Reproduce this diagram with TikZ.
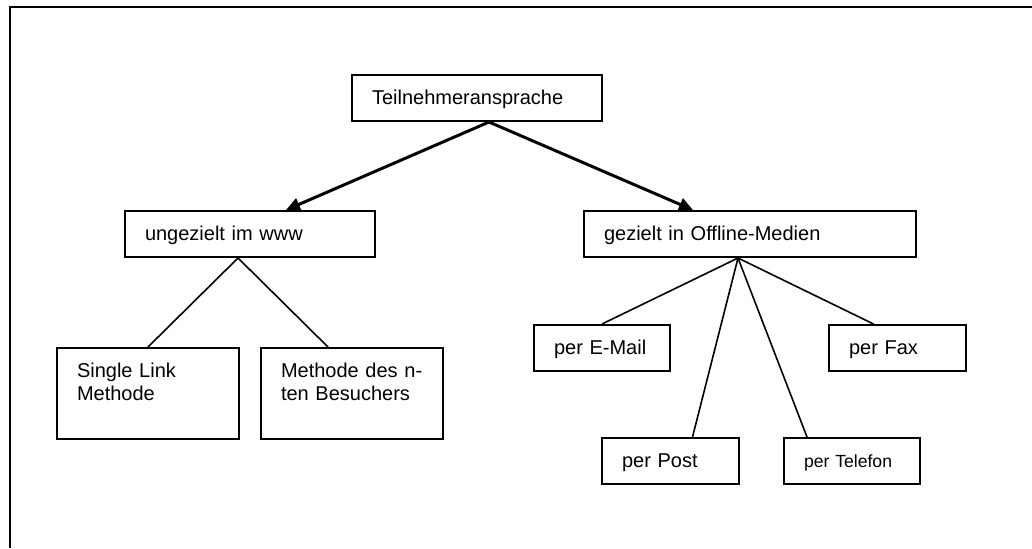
\documentclass[tikz,border=0pt]{standalone}
\usepackage{fontspec}
\setmainfont{Liberation Sans}[Ligatures=NoCommon]
\usetikzlibrary{arrows.meta,positioning}

\begin{document}
\begin{tikzpicture}[x=0.5pt, y=-0.5pt, every node/.style={font=\fontsize{10pt}{11.5pt}\selectfont},
	box/.style={draw, line width=1pt, anchor=north west, align=left, inner xsep=10pt, inner ysep=0pt, text height=14.5pt, text depth=8.5pt},
	hochbox/.style={box, text width=71pt, text depth=31pt},
	pfeil/.style={line width=1.5pt, -{Triangle[length=7pt,width=6.5pt]}},
	linie/.style={line width=0.8pt}]
	\useasboundingbox (0,0) rectangle (1032,548);
	\draw[line width=1pt] (1032,6.7) -| (10,548);
	\node[box, text width=105pt] (teiln) at (351,74) {Teilnehmeransprache};
	\node[box, text width=105pt] (ungezielt) at (124,210) {ungezielt im www};
	\node[box, text width=146pt] (gezielt) at (583,210) {gezielt in Offline-Medien};
	\node[hochbox] (single) at (56,347) {Single Link\\Methode};
	\node[hochbox] (nter) at (260,347) {\mbox{Methode des n-}\\ten Besuchers};
	\node[box, text width=48pt] (email) at (533,324) {per E-Mail};
	\node[box, text width=48.5pt] (fax) at (828,324) {per Fax};
	\node[box, text width=48.5pt] (post) at (601,437) {per Post};
	\node[box, text width=48pt, font=\fontsize{8.8pt}{10pt}\selectfont] (telefon) at (783,437) {per Telefon};
	\draw[pfeil] ([xshift=6pt]teiln.south) -- ([xshift=18pt]ungezielt.north);
	\draw[pfeil] ([xshift=6pt]teiln.south) -- ([xshift=-28.5pt]gezielt.north);
	\draw[linie] ([xshift=-6pt]ungezielt.south) -- (single.north);
	\draw[linie] ([xshift=-6pt]ungezielt.south) -- ([xshift=-12pt]nter.north);
	\draw[linie] ([xshift=-6pt]gezielt.south) -- (email.north);
	\draw[linie] ([xshift=-6pt]gezielt.south) -- ([xshift=11pt]post.north);
	\draw[linie] ([xshift=-6pt]gezielt.south) -- ([xshift=-22.5pt]telefon.north);
	\draw[linie] ([xshift=-6pt]gezielt.south) -- ([xshift=-12pt]fax.north);
\end{tikzpicture}
\end{document}
